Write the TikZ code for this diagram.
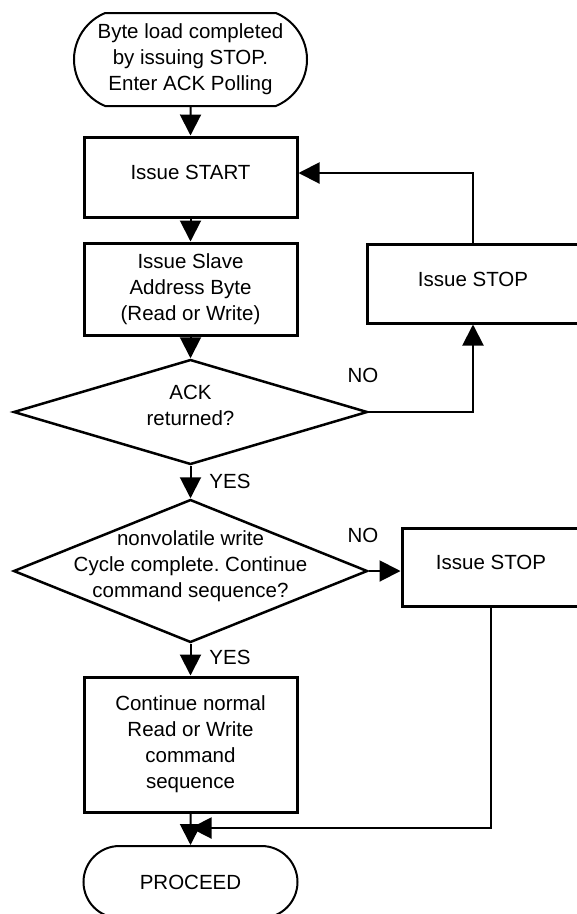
\documentclass[tikz,border=0pt]{standalone}
\usepackage{fontspec}
\setmainfont{Liberation Sans}
\usetikzlibrary{shapes.geometric,shapes.misc,arrows.meta}
\newcommand{\dectext}[1]{\smash{\makebox[0pt]{\begin{tabular}{@{}c@{}}#1\end{tabular}}}}
\frenchspacing
\begin{document}
\begin{tikzpicture}[x=1pt, y=-1pt, font=\fontsize{20.5}{26}\selectfont,
  box/.style={draw, line width=3pt, align=center, inner sep=0pt},
  oneline/.style={text height=15pt, text depth=10pt},
  term/.style={draw, rounded rectangle, line width=2pt, align=center, inner sep=0pt},
  decision/.style={draw, diamond, line width=2.5pt, inner sep=0pt},
  arr/.style={line width=2pt, -{Triangle[length=21pt, width=21pt]}},
  lbl/.style={inner sep=0pt}]
\useasboundingbox (0,0) rectangle (577,914);
\node[term, rounded rectangle arc length=135, minimum width=233pt, minimum height=93pt] (term0) at (190.5,59.5){Byte load completed\\by issuing STOP.\\Enter ACK Polling};
\node[box, oneline, minimum width=213pt, minimum height=80pt] (box1) at (190.5,177){Issue START};
\node[box, minimum width=213pt, minimum height=92pt] (box2) at (190.5,289){Issue Slave\\Address Byte\\(Read or Write)};
\node[decision, minimum width=354pt, minimum height=105pt] (dec3) at (190.5,412){\dectext{ACK\\returned?}};
\node[box, oneline, minimum width=212pt, minimum height=79pt] (stop4) at (473,283.5){Issue STOP};
\node[decision, minimum width=354pt, minimum height=143pt] (dec5) at (190.5,571){\dectext{nonvolatile write\\Cycle complete. Continue\\command sequence?}};
\node[box, oneline, minimum width=178pt, minimum height=78pt] (stop6) at (491,567){Issue STOP};
\node[box, minimum width=213pt, minimum height=135pt] (box7) at (190.5,744.5){Continue normal\\Read or Write\\command\\sequence};
\node[term, minimum width=214pt, minimum height=72pt] (term8) at (190.5,882){PROCEED};
\coordinate (mrg) at (190.5,828);
\node[lbl] (no3) at (363,375){NO};
\node[lbl] (yes3) at (230,481){YES};
\node[lbl] (no5) at (363,535){NO};
\node[lbl] (yes5) at (230,657){YES};
\draw[arr] (term0) -- (box1);
\draw[arr] (box1) -- (box2);
\draw[arr] (box2) -- (dec3);
\draw[arr] (dec3.east) -| (stop4.south);
\draw[arr] (stop4.north) |- ([yshift=4pt]box1.east);
\draw[arr] (dec3.south) -- (dec5.north);
\draw[arr] (dec5.east) -- (dec5.east -| stop6.west);
\draw[arr] (dec5.south) -- (box7.north);
\draw[arr] (box7) -- (term8);
\draw[arr] (stop6.south) |- (mrg);
\end{tikzpicture}
\end{document}
